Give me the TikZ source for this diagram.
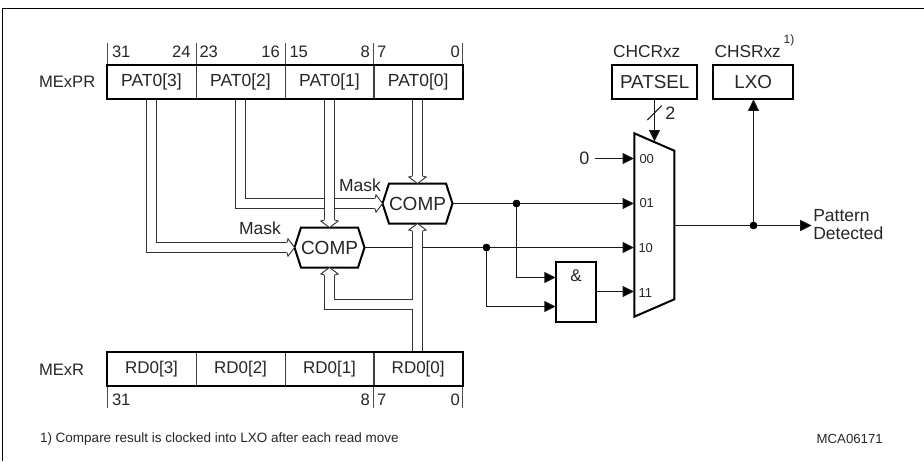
\documentclass[tikz,border=0pt]{standalone}
\usepackage{fontspec}
\setmainfont{Liberation Sans}
\usetikzlibrary{arrows.meta,shapes.symbols,calc}
\newcommand{\fsz}[1]{\fontsize{#1}{#1}\selectfont}
\newcommand{\busline}[2][]{\draw[busout,#1] #2; \draw[businn,#1] #2;}
\tikzset{
  x=1pt,y=-1pt,
  every node/.style={inner sep=0pt,outer sep=0pt,text=black!85},
  lab/.style={font=\fsz{16.6}},
  cell/.style={draw=black!75,line width=.8pt,minimum width=89pt,minimum height=34.3pt,font=\fsz{17.5}},
  rdcell/.style={cell,font=\fsz{17}},
  regframe/.style={draw=black,line width=2pt,line join=miter},
  tickline/.style={draw=black!70,line width=.8pt},
  comp/.style={draw=black,line width=2pt,fill=white,signal,signal to=west and east,signal pointer angle=144,minimum width=69pt,minimum height=40pt,font=\fsz{19}},
  boxn/.style={draw=black,line width=2pt,minimum height=34.3pt,font=\fsz{18.8}},
  wire/.style={draw=black!90,line width=1pt,-{Triangle[length=11.5pt,width=11pt,fill=black]}},
  plain/.style={draw=black!90,line width=1pt},
  dotn/.style={circle,fill=black,minimum size=7.5pt},
  busout/.style={draw=black!80,line width=11pt,line cap=butt,line join=miter},
  businn/.style={draw=white,line width=9pt,line cap=butt,line join=miter},
  busarrow/.pic={
    \fill[white] (0pt,0pt)--(-6.5pt,8.7pt)--(-8pt,4.4pt)--(-8pt,-4.4pt)--(-6.5pt,-8.7pt)--cycle;
    \draw[black!80,line width=.9pt,line join=miter] (-7.5pt,5pt)--(-6.5pt,8.7pt)--(0pt,0pt)--(-6.5pt,-8.7pt)--(-7.5pt,-5pt);
  },
}
\begin{document}
\begin{tikzpicture}
\useasboundingbox (0,0) rectangle (924,461);
% frame
\coordinate (fa) at (2.5,461);
\coordinate (fb) at (2.5,8.5);
\coordinate (fc) at (924,8.5);
\draw[line width=1.3pt,line join=miter] (fa)--(fb)--(fc);
% registers
\node[cell] (pat3) at (151.5,82.2) {PAT0[3]};
\node[cell] (pat2) at (240.5,82.2) {PAT0[2]};
\node[cell] (pat1) at (329.5,82.2) {PAT0[1]};
\node[cell,minimum width=88.7pt] (pat0) at (418.2,82.2) {PAT0[0]};
\draw[regframe] (pat3.north west) rectangle (pat0.south east);
\node[rdcell] (rd3) at (151.5,368.7) {RD0[3]};
\node[rdcell] (rd2) at (240.5,368.7) {RD0[2]};
\node[rdcell] (rd1) at (329.5,368.7) {RD0[1]};
\node[rdcell,minimum width=88.7pt] (rd0) at (418.2,368.7) {RD0[0]};
\draw[regframe] (rd3.north west) rectangle (rd0.south east);
\node[lab,anchor=west] (mexpr) at (39,81.7) {MExPR};
\node[lab,anchor=west] (mexr) at (39,369.3) {MExR};
% bit ticks
\draw[tickline] (pat3.north west)--++(0,-21.7);
\draw[tickline] (pat2.north west)--++(0,-21.7);
\draw[tickline] (pat1.north west)--++(0,-21.7);
\draw[tickline] (pat0.north west)--++(0,-21.7);
\draw[tickline] (pat0.north east)--++(0,-21.7);
\draw[tickline] (rd3.south west)--++(0,22);
\draw[tickline] (rd0.south west)--++(0,22);
\draw[tickline] (rd0.south east)--++(0,22);
\node[lab,anchor=west] (t31) at (112,51.7) {31};
\node[lab,anchor=east] (t24) at (190.5,51.7) {24};
\node[lab,anchor=west] (t23) at (199.5,51.7) {23};
\node[lab,anchor=east] (t16) at (279.8,51.7) {16};
\node[lab,anchor=west] (t15) at (289.5,51.7) {15};
\node[lab,anchor=east] (t8) at (369.8,51.7) {8};
\node[lab,anchor=west] (t7) at (377,51.7) {7};
\node[lab,anchor=east] (t0) at (459.8,51.7) {0};
\node[lab,anchor=west] (b31) at (112,400) {31};
\node[lab,anchor=east] (b8) at (369.8,400) {8};
\node[lab,anchor=west] (b7) at (377,400) {7};
\node[lab,anchor=east] (b0) at (459.8,400) {0};
% comparators
\node[comp] (comp1) at (417.5,203.5) {COMP};
\node[comp] (comp2) at (329.5,247.5) {COMP};
\node[font=\fsz{17.5}] (mask1) at (360,185) {Mask};
\node[font=\fsz{17.5}] (mask2) at (260,228) {Mask};
% mux, gate, boxes
\coordinate (muxtl) at (634.3,133.3);
\coordinate (muxtr) at (674.3,150.7);
\coordinate (muxbr) at (674.3,299.3);
\coordinate (muxbl) at (634.3,316.7);
\draw[line width=2pt,line join=miter] (muxtl)--(muxtr)--(muxbr)--(muxbl)--cycle;
\node[font=\fsz{13},anchor=west] (p00) at (639.5,159) {00};
\node[font=\fsz{13},anchor=west] (p01) at (639.5,203) {01};
\node[font=\fsz{13},anchor=west] (p10) at (638.5,248) {10};
\node[font=\fsz{13},anchor=west] (p11) at (638.5,293) {11};
\coordinate (m00) at (634,158.5);
\coordinate (m01) at (634,203.5);
\coordinate (m10) at (634,247.5);
\coordinate (m11) at (634,291.5);
\coordinate (msel) at (654.5,141.5);
\coordinate (mout) at (674.3,225.5);
\node[draw=black,line width=2pt,minimum width=40.3pt,minimum height=59.7pt] (and) at (575.9,291.9) {};
\node[font=\fsz{17}] (amp) at (576,275.5) {\&};
\node[boxn,minimum width=84.7pt] (patsel) at (654.7,82.2) {PATSEL};
\node[boxn,minimum width=80pt] (lxo) at (753.3,82.2) {LXO};
\node[font=\fsz{17.3}] (chcr) at (646.7,51.5) {CHCRxz};
\node[font=\fsz{17.3}] (chsr) at (747.7,51.5) {CHSRxz};
\node[font=\fsz{12}] (sup) at (789,40) {1)};
\node[font=\fsz{18}] (zero) at (584.3,158.7) {0};
\coordinate (zs) at (595,158.5);
\node[dotn] (d1) at (516.5,203.5) {};
\node[dotn] (d2) at (486.5,247.5) {};
\node[dotn] (d3) at (753.5,225.5) {};
\node[font=\fsz{17.5},anchor=west,align=left] (pd) at (813.3,224.5) {Pattern\\[1pt]Detected};
\coordinate (pdin) at (811.7,225.5);
\node[font=\fsz{18}] (two) at (670.3,113) {2};
\coordinate (sa) at (647.3,120);
\coordinate (sb) at (661.7,105.7);
% thin wires
\draw[wire] (zs)--(m00);
\draw[wire] (comp1.east)--(m01);
\draw[wire] (comp2.east)--(m10);
\draw[wire] (d1.center)|-(and.west |- 0,277.5);
\draw[wire] (d2.center)|-(and.west |- 0,306.5);
\draw[wire] (and.east |- m11)--(m11);
\draw[wire] (patsel.south -| msel)--(msel);
\draw[plain] (sa)--(sb);
\draw[wire] (mout)--(pdin);
\draw[wire] (d3.center)--(lxo.south -| d3);
\node[dotn] at (d1) {};
\node[dotn] at (d2) {};
\node[dotn] at (d3) {};
% buses
\busline[shorten >=6pt]{(pat3.south)|-(comp2.west)}
\busline[shorten >=6pt]{(pat2.south)|-(comp1.west)}
\busline[shorten >=6pt]{(pat1.south)--(comp2.north)}
\busline[shorten >=6pt]{(pat0.south -| comp1)--(comp1.north)}
\busline[shorten >=6pt]{(rd0.north -| comp1)--(comp1.south)}
\coordinate (br) at (413,304.5);
\busline[shorten >=6pt]{(br)-|(comp2.south)}
\pic at (comp2.west) {busarrow};
\pic at (comp1.west) {busarrow};
\pic[rotate=-90] at (comp2.north) {busarrow};
\pic[rotate=-90] at (comp1.north) {busarrow};
\pic[rotate=90] at (comp1.south) {busarrow};
\pic[rotate=90] at (comp2.south) {busarrow};
% redraw register borders over bus starts
\draw[regframe] (pat3.north west) rectangle (pat0.south east);
\draw[regframe] (rd3.north west) rectangle (rd0.south east);
% notes
\node[font=\fsz{13.5},anchor=west] (note) at (40,439) {1) Compare result is clocked into LXO after each read move};
\node[font=\fsz{13.2},anchor=east] (code) at (882.7,439) {MCA06171};
\end{tikzpicture}
\end{document}
